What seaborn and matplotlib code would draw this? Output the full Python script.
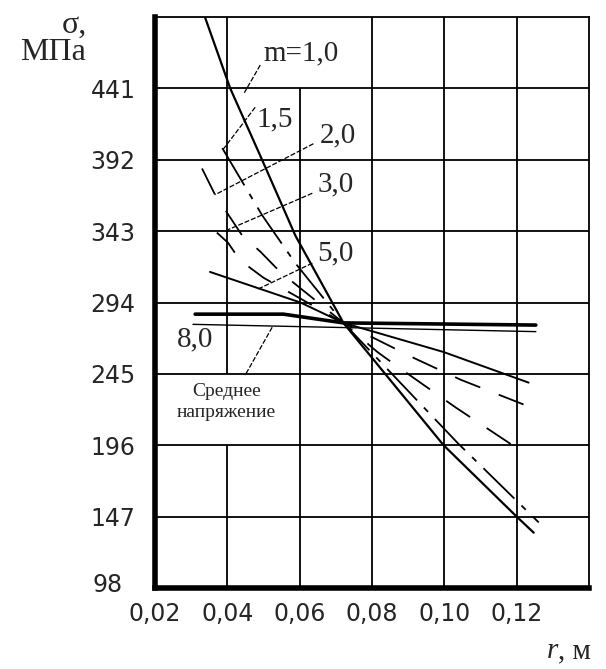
import numpy as np
import pandas as pd
import matplotlib
matplotlib.use("Agg")
import matplotlib.pyplot as plt
import seaborn as sns
from matplotlib.transforms import ScaledTranslation

# curves sigma(r) for different m
r_m10 = [0.0338, 0.0408, 0.0496, 0.0588, 0.0721, 0.0998, 0.1200, 0.1247]
s_m10 = [490, 441, 392, 340, 280, 196, 147, 136]

r_m15 = [0.0386, 0.0496, 0.0588, 0.0721, 0.1037, 0.1261]
s_m15 = [400, 354, 321, 280, 197.5, 143]

r_m20 = [0.0330, 0.0366, 0.0441, 0.0491, 0.0546, 0.0721, 0.0815, 0.0865, 0.1031, 0.1219]
s_m20 = [386, 368, 340, 329, 315, 280, 260, 251, 222, 191]

r_m30 = [0.0371, 0.0402, 0.0435, 0.0500, 0.0721, 0.0915, 0.1045, 0.1219]
s_m30 = [342, 335, 323, 311, 280, 256, 241, 224]

r_m50 = [0.0352, 0.0483, 0.0602, 0.0721, 0.0998, 0.1233]
s_m50 = [315, 304, 294, 280, 260, 239]

r_m80 = [0.0311, 0.0555, 0.0721, 0.1253]
s_m80 = [286, 286, 280, 278.5]

# mean stress line
r_mean = [0.0305, 0.1253]
s_mean = [279, 274]

y_ticks = [98, 147, 196, 245, 294, 343, 392, 441]
x_ticks = [0.02, 0.04, 0.06, 0.08, 0.10, 0.12]
x_labels = ["0,02", "0,04", "0,06", "0,08", "0,10", "0,12"]

curve_names = ["1,0", "1,5", "2,0", "3,0", "5,0", "8,0", "mean"]


def build_frame():
    parts = []
    for name, r, s in zip(curve_names,
                          [r_m10, r_m15, r_m20, r_m30, r_m50, r_m80, r_mean],
                          [s_m10, s_m15, s_m20, s_m30, s_m50, s_m80, s_mean]):
        parts.append(pd.DataFrame({"r": r, "sigma": s, "m": name}))
    return pd.concat(parts, ignore_index=True)


def main():
    sns.set_style("white")
    plt.rcParams["font.family"] = ["DejaVu Sans"]

    W, H = 606, 669
    fig = plt.figure(figsize=(W / 100, H / 100), dpi=100)
    ax = fig.add_axes([155 / W, 1 - 588 / H, (589 - 155) / W, (588 - 17) / H])

    # grid drawn by hand because some cells are left open for labels
    for y in [147, 196, 245, 294, 343, 392, 441]:
        ax.hlines(y, 0.02, 0.14, color="black", lw=1.3, zorder=1)
    ax.vlines(0.04, 98, 196, color="black", lw=1.3, zorder=1)
    ax.vlines(0.04, 245, 490, color="black", lw=1.3, zorder=1)
    ax.vlines(0.06, 98, 441, color="black", lw=1.3, zorder=1)
    for x in [0.08, 0.10, 0.12]:
        ax.vlines(x, 98, 490, color="black", lw=1.3, zorder=1)

    Data = build_frame()
    dashes = {"1,0": "", "1,5": (24, 5.5, 3.3, 5.5), "2,0": (16, 11),
              "3,0": (15, 11), "5,0": "", "8,0": "", "mean": ""}
    sizes = {"1,0": 1.6, "1,5": 1.3, "2,0": 1.3, "3,0": 1.3,
             "5,0": 1.4, "8,0": 2.6, "mean": 1.0}
    sns.lineplot(data=Data, x="r", y="sigma", style="m", size="m",
                 dashes=dashes, sizes=sizes, color="black",
                 estimator=None, sort=False, legend=False, ax=ax, zorder=3)

    ax.set_xlim(0.02, 0.14)
    ax.set_ylim(98, 490)
    ax.set_xlabel("")
    ax.set_ylabel("")
    ax.set_xticks(x_ticks)
    ax.set_xticklabels(x_labels, fontsize=17)
    ax.set_yticks(y_ticks)
    ax.set_yticklabels([str(v) for v in y_ticks], fontsize=17)
    ax.tick_params(axis="x", length=0, pad=10)
    ax.tick_params(axis="y", length=0, pad=14)
    lbl = ax.get_yticklabels()[0]
    lbl.set_transform(lbl.get_transform() + ScaledTranslation(-0.13, 0.05, fig.dpi_scale_trans))

    for side in ["left", "bottom"]:
        ax.spines[side].set_linewidth(4)
        ax.spines[side].set_color("black")
    for side in ["top", "right"]:
        ax.spines[side].set_linewidth(1.3)
        ax.spines[side].set_color("black")

    # curve labels with leader lines
    serif = "Liberation Serif"
    ax.text(0.0604, 465, "m=1,0", fontsize=21, family=serif, ha="center", va="center")
    ax.text(0.0532, 420, "1,5", fontsize=21, family=serif, ha="center", va="center")
    ax.text(0.0705, 409, "2,0", fontsize=21, family=serif, ha="center", va="center")
    ax.text(0.0700, 375, "3,0", fontsize=21, family=serif, ha="center", va="center")
    ax.text(0.0700, 328, "5,0", fontsize=21, family=serif, ha="center", va="center")
    ax.text(0.0311, 269, "8,0", fontsize=21, family=serif, ha="center", va="center")
    ax.text(0.0397, 226, "Среднее\nнапряжение", fontsize=14, family=serif,
            ha="center", va="center", linespacing=1.3)

    leaders = [((0.0491, 457), (0.0447, 438)),
               ((0.0477, 428), (0.0388, 399)),
               ((0.0638, 403), (0.0366, 368)),
               ((0.0635, 369), (0.0402, 344)),
               ((0.0635, 321), (0.0483, 303)),
               ((0.0524, 277), (0.0449, 244))]
    for (x0, y0), (x1, y1) in leaders:
        ax.plot([x0, x1], [y0, y1], color="black", lw=0.9, dashes=(4, 1.5), zorder=2)

    # axis titles
    fig.text(74 / W, 1 - 25 / H, "σ,", fontsize=23, family=serif, ha="center", va="center")
    fig.text(53 / W, 1 - 52 / H, "МПа", fontsize=23, family=serif, ha="center", va="center")
    fig.text(558 / W, 1 - 658 / H, "r", fontsize=21, family=serif, style="italic",
             ha="right", va="baseline")
    fig.text(558 / W, 1 - 658 / H, ", м", fontsize=21, family=serif,
             ha="left", va="baseline")

    fig.savefig("out.png", dpi=100)


if __name__ == "__main__":
    main()
